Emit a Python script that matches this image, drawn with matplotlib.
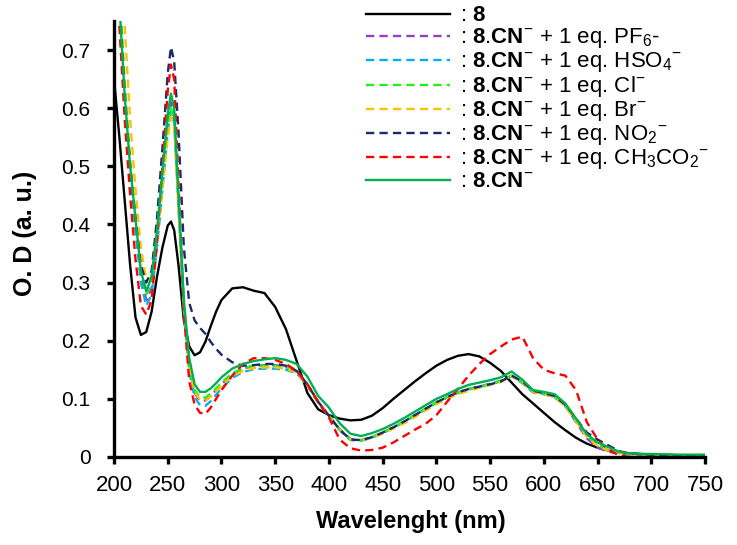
import matplotlib
matplotlib.use('Agg')
import matplotlib.pyplot as plt

plt.rcParams['font.family'] = ['Liberation Sans', 'DejaVu Sans']
plt.rcParams['mathtext.fontset'] = 'custom'
plt.rcParams['mathtext.rm'] = 'Liberation Sans'
plt.rcParams['mathtext.bf'] = 'Liberation Sans:bold'

wavelength = [200, 205, 210, 215, 220, 225, 230, 235, 240, 245, 250, 253, 256, 260, 265, 270, 275, 280,
              285, 290, 295, 300, 310, 320, 330, 340, 350, 360, 370, 380, 390, 400, 410, 420, 430, 440,
              450, 460, 470, 480, 490, 500, 510, 520, 530, 540, 550, 560, 570, 580, 590, 600, 610, 620,
              630, 640, 650, 660, 670, 680, 700, 725, 750]

od_8 = [0.65, 0.55, 0.44, 0.33, 0.24, 0.21, 0.215, 0.25, 0.31, 0.36, 0.398, 0.405, 0.39, 0.33, 0.235,
        0.19, 0.175, 0.18, 0.198, 0.225, 0.25, 0.27, 0.29, 0.292, 0.286, 0.282, 0.258, 0.22, 0.165,
        0.11, 0.082, 0.072, 0.066, 0.063, 0.064, 0.071, 0.084, 0.1, 0.115, 0.13, 0.144, 0.157, 0.167,
        0.174, 0.177, 0.173, 0.162, 0.148, 0.128, 0.108, 0.092, 0.076, 0.06, 0.046, 0.033, 0.023,
        0.016, 0.011, 0.008, 0.006, 0.004, 0.003, 0.003]

od_pf6 = [0.98, 0.8, 0.63, 0.5, 0.4, 0.31, 0.27, 0.29, 0.37, 0.47, 0.57, 0.61, 0.585, 0.44, 0.26,
          0.155, 0.11, 0.097, 0.097, 0.105, 0.115, 0.125, 0.142, 0.152, 0.157, 0.158, 0.158, 0.155,
          0.148, 0.125, 0.095, 0.072, 0.048, 0.031, 0.029, 0.034, 0.042, 0.051, 0.061, 0.072, 0.083,
          0.094, 0.103, 0.111, 0.117, 0.121, 0.126, 0.131, 0.14, 0.128, 0.112, 0.109, 0.104, 0.088,
          0.06, 0.032, 0.016, 0.009, 0.006, 0.005, 0.004, 0.003, 0.003]

od_hso4 = [0.97, 0.79, 0.62, 0.49, 0.39, 0.3, 0.26, 0.28, 0.36, 0.46, 0.56, 0.595, 0.575, 0.43, 0.25,
           0.148, 0.103, 0.089, 0.088, 0.096, 0.107, 0.118, 0.136, 0.146, 0.151, 0.152, 0.152, 0.15,
           0.144, 0.122, 0.093, 0.07, 0.046, 0.029, 0.028, 0.033, 0.041, 0.05, 0.06, 0.071, 0.082,
           0.093, 0.102, 0.11, 0.116, 0.12, 0.125, 0.13, 0.139, 0.127, 0.111, 0.108, 0.103, 0.088,
           0.062, 0.036, 0.02, 0.011, 0.007, 0.005, 0.004, 0.003, 0.003]

od_cl = [0.99, 0.81, 0.64, 0.51, 0.41, 0.32, 0.28, 0.3, 0.38, 0.47, 0.565, 0.6, 0.58, 0.44, 0.26,
         0.158, 0.115, 0.103, 0.102, 0.109, 0.118, 0.128, 0.144, 0.153, 0.157, 0.157, 0.157, 0.154,
         0.147, 0.124, 0.094, 0.071, 0.047, 0.03, 0.029, 0.034, 0.042, 0.051, 0.061, 0.072, 0.083,
         0.094, 0.103, 0.111, 0.117, 0.121, 0.126, 0.131, 0.14, 0.128, 0.112, 0.109, 0.104, 0.089,
         0.063, 0.037, 0.021, 0.012, 0.007, 0.005, 0.004, 0.003, 0.003]

od_br = [1.05, 0.88, 0.74, 0.58, 0.46, 0.36, 0.305, 0.31, 0.37, 0.46, 0.55, 0.585, 0.57, 0.43, 0.26,
         0.155, 0.112, 0.099, 0.097, 0.104, 0.113, 0.123, 0.139, 0.148, 0.153, 0.154, 0.154, 0.152,
         0.145, 0.123, 0.094, 0.071, 0.047, 0.03, 0.029, 0.033, 0.04, 0.049, 0.058, 0.069, 0.08,
         0.091, 0.1, 0.108, 0.114, 0.119, 0.124, 0.129, 0.139, 0.128, 0.112, 0.108, 0.103, 0.087,
         0.061, 0.035, 0.019, 0.011, 0.007, 0.005, 0.004, 0.003, 0.003]

od_no2 = [0.95, 0.78, 0.62, 0.5, 0.41, 0.33, 0.3, 0.32, 0.41, 0.53, 0.66, 0.705, 0.68, 0.56, 0.36,
          0.265, 0.235, 0.222, 0.212, 0.198, 0.186, 0.176, 0.163, 0.157, 0.158, 0.16, 0.16, 0.157,
          0.148, 0.125, 0.095, 0.071, 0.047, 0.03, 0.029, 0.034, 0.042, 0.051, 0.061, 0.072, 0.083,
          0.094, 0.103, 0.111, 0.117, 0.121, 0.125, 0.13, 0.14, 0.13, 0.114, 0.11, 0.105, 0.09,
          0.066, 0.042, 0.03, 0.02, 0.01, 0.006, 0.004, 0.003, 0.003]

od_ac = [0.92, 0.74, 0.58, 0.45, 0.34, 0.26, 0.245, 0.27, 0.37, 0.5, 0.63, 0.675, 0.65, 0.47, 0.25,
         0.13, 0.09, 0.076, 0.074, 0.085, 0.1, 0.115, 0.14, 0.16, 0.17, 0.17, 0.167, 0.16, 0.148,
         0.125, 0.095, 0.068, 0.03, 0.015, 0.011, 0.012, 0.016, 0.025, 0.036, 0.047, 0.057, 0.072,
         0.095, 0.117, 0.14, 0.16, 0.177, 0.19, 0.202, 0.207, 0.17, 0.15, 0.144, 0.14, 0.115, 0.06,
         0.03, 0.012, 0.003, 0.0, 0.0, 0.0, 0.0]

od_cn = [0.95, 0.78, 0.62, 0.5, 0.41, 0.32, 0.285, 0.31, 0.39, 0.49, 0.59, 0.625, 0.6, 0.45, 0.27,
         0.17, 0.125, 0.112, 0.112, 0.118, 0.127, 0.137, 0.152, 0.16, 0.165, 0.168, 0.17, 0.167,
         0.16, 0.138, 0.105, 0.085, 0.058, 0.04, 0.036, 0.041, 0.048, 0.057, 0.067, 0.078, 0.089,
         0.1, 0.108, 0.117, 0.124, 0.128, 0.132, 0.137, 0.147, 0.133, 0.115, 0.112, 0.108, 0.092,
         0.066, 0.039, 0.025, 0.017, 0.009, 0.006, 0.005, 0.004, 0.004]

labels = [r': $\mathbf{8}$',
          r': $\mathbf{8}$.$\mathbf{CN}^{-}$ + 1 eq. PF$_6$-',
          r': $\mathbf{8}$.$\mathbf{CN}^{-}$ + 1 eq. HSO$_4{}^{-}$',
          r': $\mathbf{8}$.$\mathbf{CN}^{-}$ + 1 eq. Cl$^{-}$',
          r': $\mathbf{8}$.$\mathbf{CN}^{-}$ + 1 eq. Br$^{-}$',
          r': $\mathbf{8}$.$\mathbf{CN}^{-}$ + 1 eq. NO$_2{}^{-}$',
          r': $\mathbf{8}$.$\mathbf{CN}^{-}$ + 1 eq. CH$_3$CO$_2{}^{-}$',
          r': $\mathbf{8}$.$\mathbf{CN}^{-}$']
series = [od_8, od_pf6, od_hso4, od_cl, od_br, od_no2, od_ac, od_cn]
colors = ['black', '#9440c4', '#00b0f0', '#22ee22', '#ffc000', '#1a2a6c', '#ff0000', '#00b050']
dashed = [False, True, True, True, True, True, True, False]

fig = plt.figure(figsize=(7.37, 5.45), dpi=100)
ax = fig.add_axes([0.1547, 0.1615, 0.8019, 0.80])

for od, c, d, lab in zip(series, colors, dashed, labels):
    ls = (0, (3.5, 2.2)) if d else '-'
    ax.plot(wavelength, od, color=c, linestyle=ls, lw=1.7, label=lab)

ax.set_xlim(200, 750)
ax.set_ylim(0, 0.75)
ax.set_xticks(range(200, 751, 50))
ax.set_yticks([0, 0.1, 0.2, 0.3, 0.4, 0.5, 0.6, 0.7])
ax.set_yticklabels(['0', '0.1', '0.2', '0.3', '0.4', '0.5', '0.6', '0.7'])
for s in ['top', 'right']:
    ax.spines[s].set_visible(False)
for s in ['left', 'bottom']:
    ax.spines[s].set_linewidth(2.4)
ax.tick_params(width=2.4, length=5, direction='out')
ax.tick_params(axis='x', labelsize=16, pad=8)
ax.tick_params(axis='y', labelsize=15, pad=12)

ax.set_xlabel('Wavelenght (nm)', fontsize=17, fontweight='bold')
ax.set_ylabel('O. D (a. u.)', fontsize=18, fontweight='bold')
ax.xaxis.set_label_coords(0.503, -0.122)
ax.yaxis.set_label_coords(-0.13, 0.514)

fig.legend(loc='upper left', bbox_to_anchor=(0.496, 0.99), frameon=False, fontsize=16,
           handlelength=3.8, handletextpad=0.45, labelspacing=0.0, borderpad=0, borderaxespad=0)

plt.savefig('out.png', dpi=100)
